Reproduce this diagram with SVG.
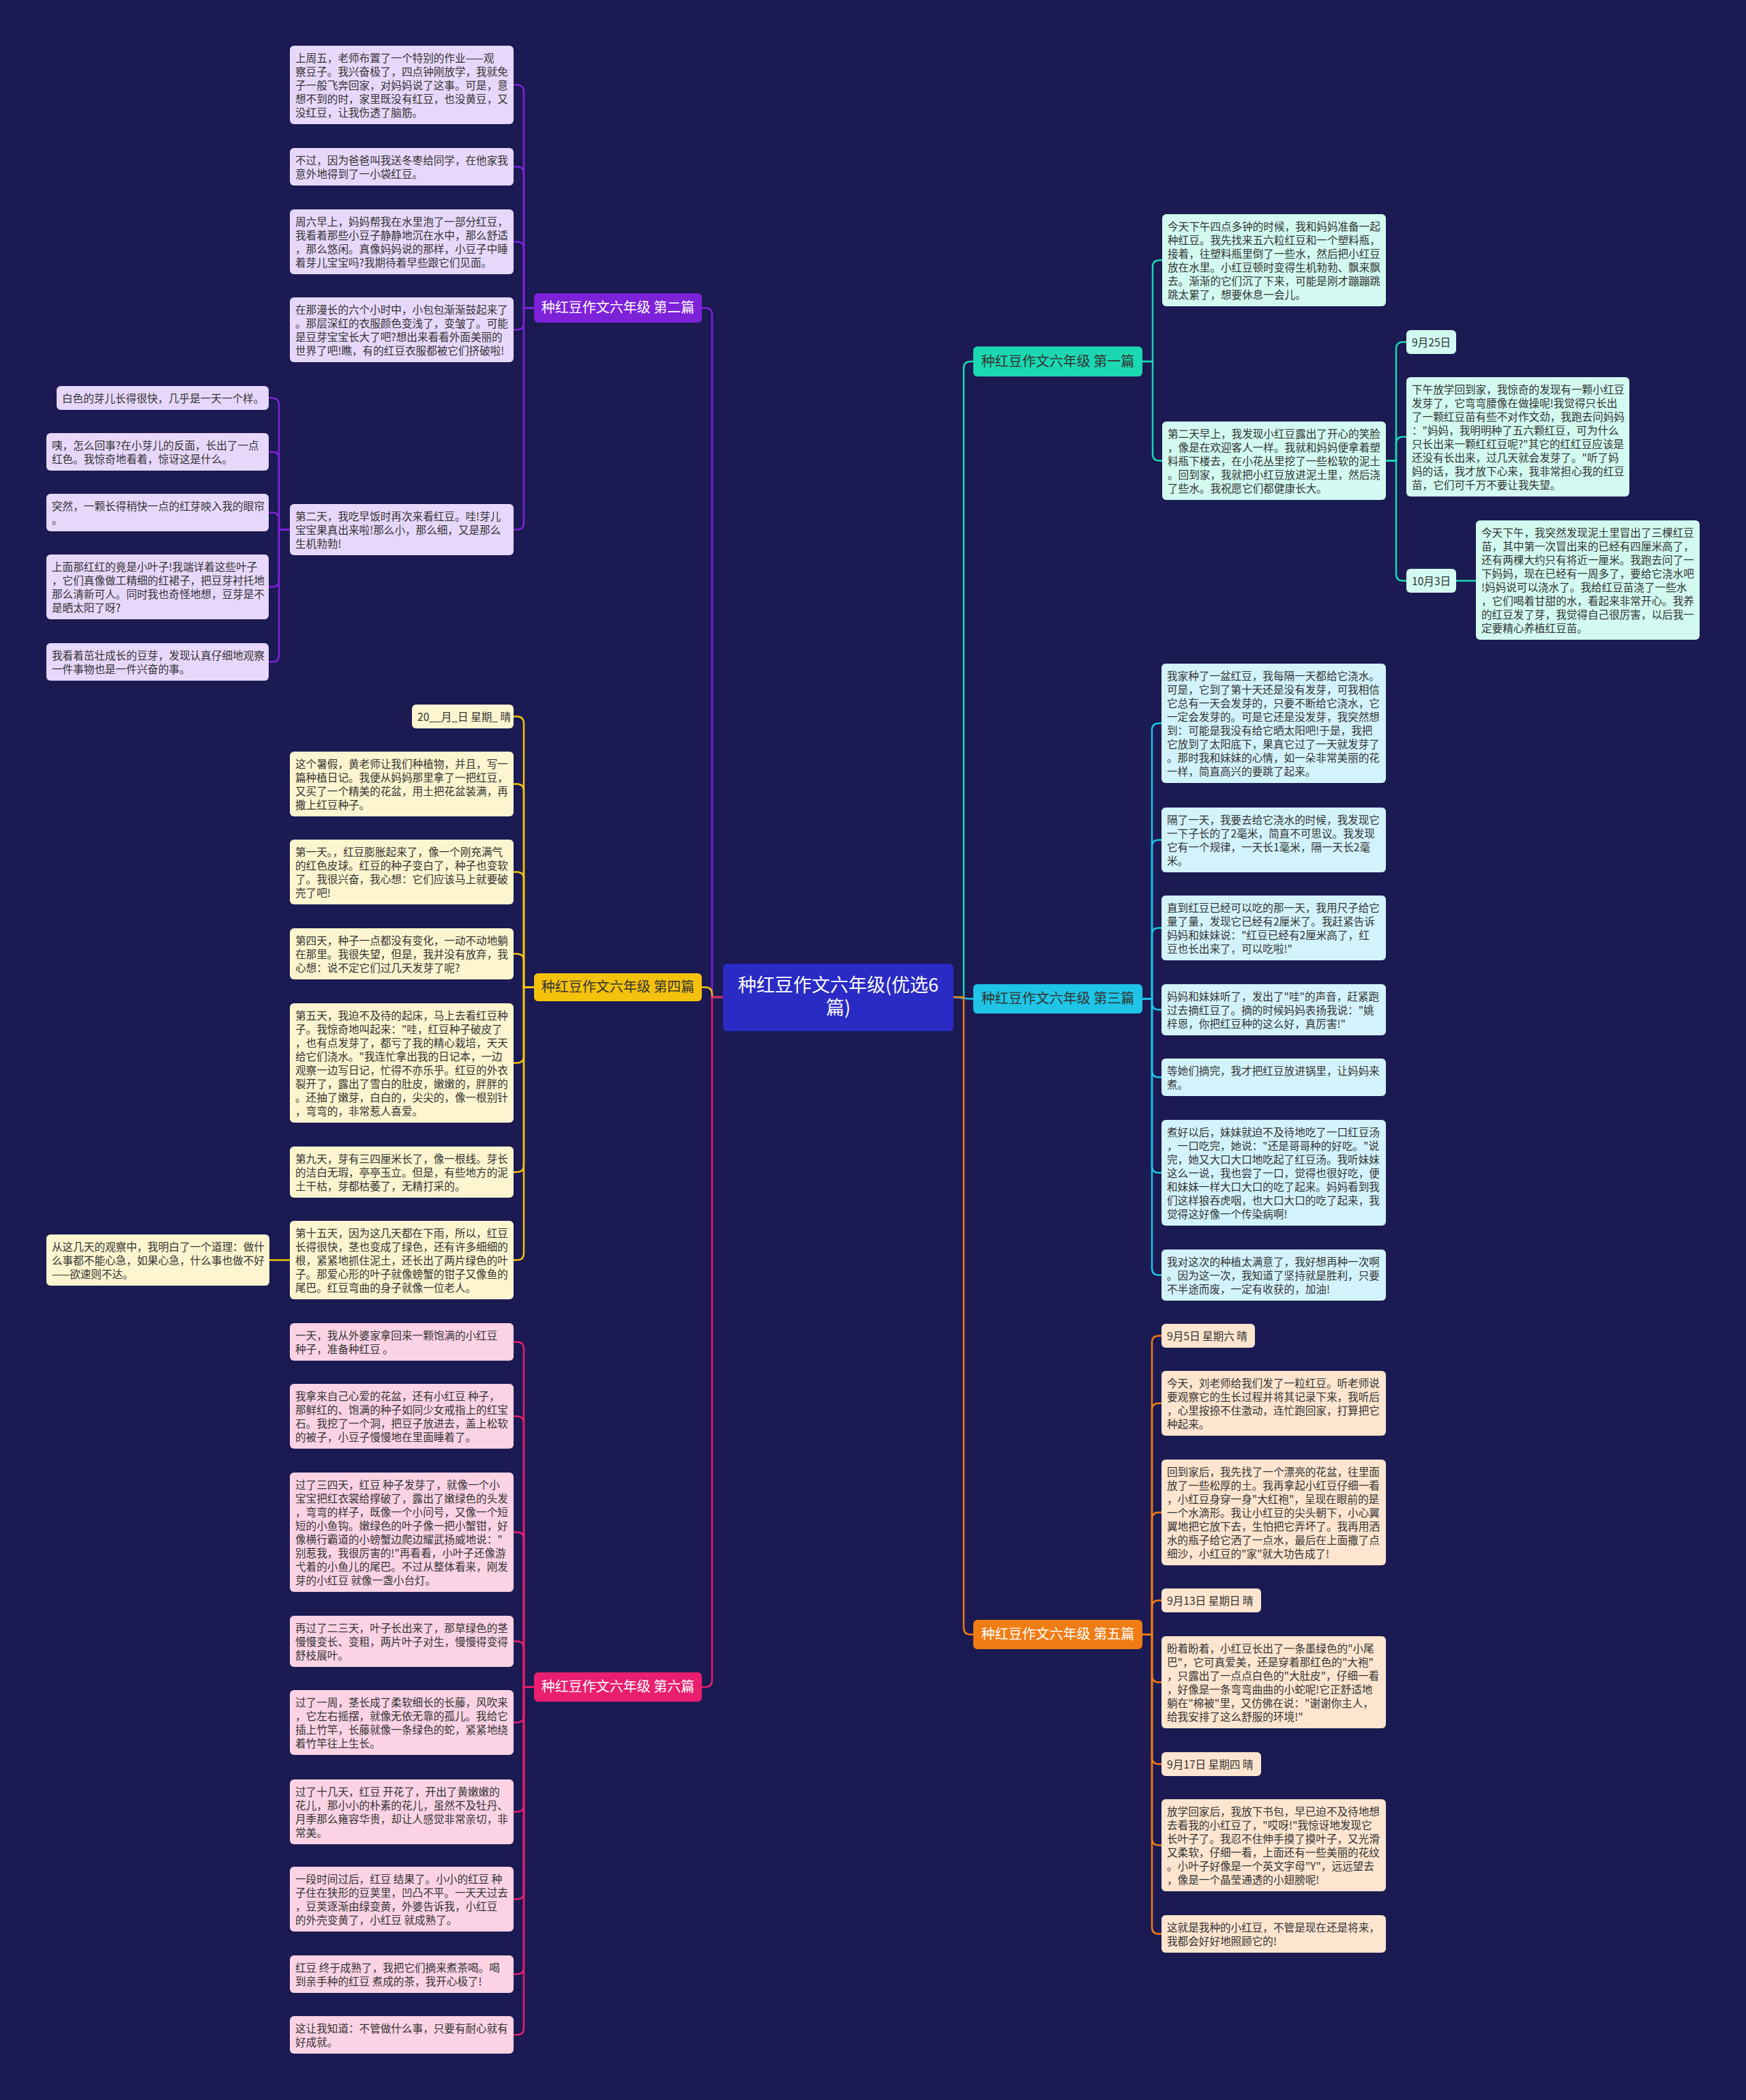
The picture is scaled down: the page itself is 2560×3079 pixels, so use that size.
<svg xmlns="http://www.w3.org/2000/svg" width="2560" height="3079" viewBox="0 0 2560 3079">
<style>
.t{font-family:"Noto Sans CJK SC","Noto Sans",sans-serif;font-size:15.6px;fill:#333}
.bt{font-family:"Noto Sans CJK SC","Noto Sans",sans-serif;font-size:20px;text-anchor:middle}
.ct{font-family:"Noto Sans CJK SC","Noto Sans",sans-serif;font-size:27px;fill:#fff;text-anchor:middle}
.c{fill:none;stroke-width:2.5;stroke-linecap:round}
.lp{fill:#e7d8fb}.ly{fill:#fdf5cf}.lk{fill:#fbd3e5}.lt{fill:#d2faf0}.lc{fill:#d3f3fc}.lo{fill:#fde5cf}
</style>
<rect x="0" y="0" width="2560" height="3079" fill="#1b1a52"/>
<g id="connectors">
<g stroke="#7d22d9" class="c">
<path class="c" stroke="#7d22d9" d="M1060,1462 H1044 V461.5 Q1044,451.5 1034,451.5 H1029"/>
<path class="c" stroke="#7d22d9" d="M783,451.5 H768 V134.5 Q768,124.5 758,124.5 H753"/>
<path class="c" stroke="#7d22d9" d="M783,451.5 H768 V254.5 Q768,244.5 758,244.5 H753"/>
<path class="c" stroke="#7d22d9" d="M783,451.5 H768 V364.5 Q768,354.5 758,354.5 H753"/>
<path class="c" stroke="#7d22d9" d="M783,451.5 H768 V473.5 Q768,483.5 758,483.5 H753"/>
<path class="c" stroke="#7d22d9" d="M783,451.5 H768 V766.5 Q768,776.5 758,776.5 H753"/>
<path class="c" stroke="#7d22d9" d="M425,776.5 H409 V593.5 Q409,583.5 399,583.5 H394"/>
<path class="c" stroke="#7d22d9" d="M425,776.5 H409 V672.5 Q409,662.5 399,662.5 H394"/>
<path class="c" stroke="#7d22d9" d="M425,776.5 H409 V761.5 Q409,751.5 399,751.5 H394"/>
<path class="c" stroke="#7d22d9" d="M425,776.5 H409 V850.5 Q409,860.5 399,860.5 H394"/>
<path class="c" stroke="#7d22d9" d="M425,776.5 H409 V960.5 Q409,970.5 399,970.5 H394"/>
</g>
<g>
<path class="c" stroke="#f4c20d" d="M1060,1462 H1044 V1457.5 Q1044,1447.5 1034,1447.5 H1029"/>
<path class="c" stroke="#f4c20d" d="M783,1447.5 H768 V1060.5 Q768,1050.5 758,1050.5 H753"/>
<path class="c" stroke="#f4c20d" d="M783,1447.5 H768 V1159.5 Q768,1149.5 758,1149.5 H753"/>
<path class="c" stroke="#f4c20d" d="M783,1447.5 H768 V1288.5 Q768,1278.5 758,1278.5 H753"/>
<path class="c" stroke="#f4c20d" d="M783,1447.5 H768 V1408.5 Q768,1398.5 758,1398.5 H753"/>
<path class="c" stroke="#f4c20d" d="M783,1447.5 H768 V1548.5 Q768,1558.5 758,1558.5 H753"/>
<path class="c" stroke="#f4c20d" d="M783,1447.5 H768 V1708.5 Q768,1718.5 758,1718.5 H753"/>
<path class="c" stroke="#f4c20d" d="M783,1447.5 H768 V1837.5 Q768,1847.5 758,1847.5 H753"/>
<path class="c" stroke="#f4c20d" d="M425,1847.5 H395"/>
</g>
<g>
<path class="c" stroke="#e91e6f" d="M1060,1462 H1044 V2463.5 Q1044,2473.5 1034,2473.5 H1029"/>
<path class="c" stroke="#e91e6f" d="M783,2473.5 H768 V1977.5 Q768,1967.5 758,1967.5 H753"/>
<path class="c" stroke="#e91e6f" d="M783,2473.5 H768 V2086.5 Q768,2076.5 758,2076.5 H753"/>
<path class="c" stroke="#e91e6f" d="M783,2473.5 H768 V2256.5 Q768,2246.5 758,2246.5 H753"/>
<path class="c" stroke="#e91e6f" d="M783,2473.5 H768 V2416.5 Q768,2406.5 758,2406.5 H753"/>
<path class="c" stroke="#e91e6f" d="M783,2473.5 H768 V2515.5 Q768,2525.5 758,2525.5 H753"/>
<path class="c" stroke="#e91e6f" d="M783,2473.5 H768 V2646.5 Q768,2656.5 758,2656.5 H753"/>
<path class="c" stroke="#e91e6f" d="M783,2473.5 H768 V2774.5 Q768,2784.5 758,2784.5 H753"/>
<path class="c" stroke="#e91e6f" d="M783,2473.5 H768 V2884.5 Q768,2894.5 758,2894.5 H753"/>
<path class="c" stroke="#e91e6f" d="M783,2473.5 H768 V2973.5 Q768,2983.5 758,2983.5 H753"/>
</g>
<g>
<path class="c" stroke="#1bd8b2" d="M1398,1462 H1413 V540 Q1413,530 1423,530 H1427"/>
<path class="c" stroke="#1bd8b2" d="M1675,530 H1690 V391.5 Q1690,381.5 1700,381.5 H1704"/>
<path class="c" stroke="#1bd8b2" d="M1675,530 H1690 V665.5 Q1690,675.5 1700,675.5 H1704"/>
<path class="c" stroke="#1bd8b2" d="M2032,675.5 H2047 V511.5 Q2047,501.5 2057,501.5 H2062"/>
<path class="c" stroke="#1bd8b2" d="M2032,675.5 H2047 V650.5 Q2047,640.5 2057,640.5 H2062"/>
<path class="c" stroke="#1bd8b2" d="M2032,675.5 H2047 V841.5 Q2047,851.5 2057,851.5 H2062"/>
<path class="c" stroke="#1bd8b2" d="M2135,851.5 H2164"/>
</g>
<g>
<path class="c" stroke="#1ec5e6" d="M1398,1462 C1410,1462 1412,1464.5 1427,1464.5"/>
<path class="c" stroke="#1ec5e6" d="M1675,1464.5 H1689 V1070.5 Q1689,1060.5 1699,1060.5 H1703"/>
<path class="c" stroke="#1ec5e6" d="M1675,1464.5 H1689 V1241.5 Q1689,1231.5 1699,1231.5 H1703"/>
<path class="c" stroke="#1ec5e6" d="M1675,1464.5 H1689 V1370.5 Q1689,1360.5 1699,1360.5 H1703"/>
<path class="c" stroke="#1ec5e6" d="M1675,1464.5 H1689 V1470.5 Q1689,1480.5 1699,1480.5 H1703"/>
<path class="c" stroke="#1ec5e6" d="M1675,1464.5 H1689 V1569.5 Q1689,1579.5 1699,1579.5 H1703"/>
<path class="c" stroke="#1ec5e6" d="M1675,1464.5 H1689 V1709.5 Q1689,1719.5 1699,1719.5 H1703"/>
<path class="c" stroke="#1ec5e6" d="M1675,1464.5 H1689 V1859.5 Q1689,1869.5 1699,1869.5 H1703"/>
</g>
<g>
<path class="c" stroke="#f07c14" d="M1398,1462 H1413 V2386.5 Q1413,2396.5 1423,2396.5 H1427"/>
<path class="c" stroke="#f07c14" d="M1675,2396.5 H1689 V1968.5 Q1689,1958.5 1699,1958.5 H1703"/>
<path class="c" stroke="#f07c14" d="M1675,2396.5 H1689 V2067.5 Q1689,2057.5 1699,2057.5 H1703"/>
<path class="c" stroke="#f07c14" d="M1675,2396.5 H1689 V2227.5 Q1689,2217.5 1699,2217.5 H1703"/>
<path class="c" stroke="#f07c14" d="M1675,2396.5 H1689 V2356.5 Q1689,2346.5 1699,2346.5 H1703"/>
<path class="c" stroke="#f07c14" d="M1675,2396.5 H1689 V2456.5 Q1689,2466.5 1699,2466.5 H1703"/>
<path class="c" stroke="#f07c14" d="M1675,2396.5 H1689 V2576.5 Q1689,2586.5 1699,2586.5 H1703"/>
<path class="c" stroke="#f07c14" d="M1675,2396.5 H1689 V2695.5 Q1689,2705.5 1699,2705.5 H1703"/>
<path class="c" stroke="#f07c14" d="M1675,2396.5 H1689 V2825.5 Q1689,2835.5 1699,2835.5 H1703"/>
</g>
</g>

<g id="center"><rect x="1060" y="1413" width="338" height="99" rx="6" fill="#2a2ac4"/><text class="ct" x="1229" y="1454">种红豆作文六年级(优选6<tspan x="1229" dy="33">篇)</tspan></text></g>

<g id="b2"><rect x="783" y="430" width="246" height="43" rx="6" fill="#7d22d9"/><text class="bt" x="906" y="458" fill="#fff">种红豆作文六年级 第二篇</text></g>
<g id="b4"><rect x="783" y="1427" width="246" height="41" rx="6" fill="#f4c20d"/><text class="bt" x="906" y="1454" fill="#333">种红豆作文六年级 第四篇</text></g>
<g id="b6"><rect x="783" y="2452" width="246" height="43" rx="6" fill="#e91e6f"/><text class="bt" x="906" y="2480" fill="#fff">种红豆作文六年级 第六篇</text></g>
<g id="b1"><rect x="1427" y="508" width="248" height="44" rx="6" fill="#1bd8b2"/><text class="bt" x="1551" y="537" fill="#333">种红豆作文六年级 第一篇</text></g>
<g id="b3"><rect x="1427" y="1443" width="248" height="43" rx="6" fill="#1ec5e6"/><text class="bt" x="1551" y="1471" fill="#333">种红豆作文六年级 第三篇</text></g>
<g id="b5"><rect x="1427" y="2375" width="248" height="43" rx="6" fill="#f07c14"/><text class="bt" x="1551" y="2403" fill="#fff">种红豆作文六年级 第五篇</text></g>

<g id="n2-1"><rect class="lp" x="425" y="67" width="328" height="115" rx="6"/><text class="t" x="433" y="91"><tspan x="433">上周五，老师布置了一个特别的作业——观</tspan><tspan x="433" dy="20">察豆子。我兴奋极了，四点钟刚放学，我就免</tspan><tspan x="433" dy="20">子一般飞奔回家，对妈妈说了这事。可是，意</tspan><tspan x="433" dy="20">想不到的时，家里既没有红豆，也没黄豆，又</tspan><tspan x="433" dy="20">没红豆，让我伤透了脑筋。</tspan></text></g>
<g id="n2-2"><rect class="lp" x="425" y="217" width="328" height="55" rx="6"/><text class="t" x="433" y="241"><tspan x="433">不过，因为爸爸叫我送冬枣给同学，在他家我</tspan><tspan x="433" dy="20">意外地得到了一小袋红豆。</tspan></text></g>
<g id="n2-3"><rect class="lp" x="425" y="307" width="328" height="95" rx="6"/><text class="t" x="433" y="331"><tspan x="433">周六早上，妈妈帮我在水里泡了一部分红豆，</tspan><tspan x="433" dy="20">我看着那些小豆子静静地沉在水中，那么舒适</tspan><tspan x="433" dy="20">，那么悠闲。真像妈妈说的那样，小豆子中睡</tspan><tspan x="433" dy="20">着芽儿宝宝吗?我期待着早些跟它们见面。</tspan></text></g>
<g id="n2-4"><rect class="lp" x="425" y="436" width="328" height="95" rx="6"/><text class="t" x="433" y="460"><tspan x="433">在那漫长的六个小时中，小包包渐渐鼓起来了</tspan><tspan x="433" dy="20">。那层深红的衣服颜色变浅了，变皱了。可能</tspan><tspan x="433" dy="20">是豆芽宝宝长大了吧?想出来看看外面美丽的</tspan><tspan x="433" dy="20">世界了吧!瞧，有的红豆衣服都被它们挤破啦!</tspan></text></g>
<g id="n2-5"><rect class="lp" x="425" y="739" width="328" height="75" rx="6"/><text class="t" x="433" y="763"><tspan x="433">第二天，我吃早饭时再次来看红豆。哇!芽儿</tspan><tspan x="433" dy="20">宝宝果真出来啦!那么小，那么细，又是那么</tspan><tspan x="433" dy="20">生机勃勃!</tspan></text></g>
<g id="n2-5-1"><rect class="lp" x="83" y="566" width="311" height="35" rx="6"/><text class="t" x="91" y="590">白色的芽儿长得很快，几乎是一天一个样。</text></g>
<g id="n2-5-2"><rect class="lp" x="68" y="635" width="326" height="55" rx="6"/><text class="t" x="76" y="659"><tspan x="76">咦，怎么回事?在小芽儿的反面，长出了一点</tspan><tspan x="76" dy="20">红色。我惊奇地看着，惊讶这是什么。</tspan></text></g>
<g id="n2-5-3"><rect class="lp" x="68" y="724" width="326" height="55" rx="6"/><text class="t" x="76" y="748"><tspan x="76">突然，一颗长得稍快一点的红芽映入我的眼帘</tspan><tspan x="76" dy="20">。</tspan></text></g>
<g id="n2-5-4"><rect class="lp" x="68" y="813" width="326" height="95" rx="6"/><text class="t" x="76" y="837"><tspan x="76">上面那红红的竟是小叶子!我端详着这些叶子</tspan><tspan x="76" dy="20">，它们真像做工精细的红裙子，把豆芽衬托地</tspan><tspan x="76" dy="20">那么清新可人。同时我也奇怪地想，豆芽是不</tspan><tspan x="76" dy="20">是晒太阳了呀?</tspan></text></g>
<g id="n2-5-5"><rect class="lp" x="68" y="943" width="326" height="55" rx="6"/><text class="t" x="76" y="967"><tspan x="76">我看着茁壮成长的豆芽，发现认真仔细地观察</tspan><tspan x="76" dy="20">一件事物也是一件兴奋的事。</tspan></text></g>

<g id="n4-1"><rect class="ly" x="604" y="1033" width="149" height="35" rx="6"/><text class="t" x="612" y="1057">20__月_日 星期_ 晴</text></g>
<g id="n4-2"><rect class="ly" x="425" y="1102" width="328" height="95" rx="6"/><text class="t" x="433" y="1126"><tspan x="433">这个暑假，黄老师让我们种植物，并且，写一</tspan><tspan x="433" dy="20">篇种植日记。我便从妈妈那里拿了一把红豆，</tspan><tspan x="433" dy="20">又买了一个精美的花盆，用土把花盆装满，再</tspan><tspan x="433" dy="20">撒上红豆种子。</tspan></text></g>
<g id="n4-3"><rect class="ly" x="425" y="1231" width="328" height="95" rx="6"/><text class="t" x="433" y="1255"><tspan x="433">第一天。，红豆膨胀起来了，像一个刚充满气</tspan><tspan x="433" dy="20">的红色皮球。红豆的种子变白了，种子也变软</tspan><tspan x="433" dy="20">了。我很兴奋，我心想：它们应该马上就要破</tspan><tspan x="433" dy="20">壳了吧!</tspan></text></g>
<g id="n4-4"><rect class="ly" x="425" y="1361" width="328" height="75" rx="6"/><text class="t" x="433" y="1385"><tspan x="433">第四天，种子一点都没有变化，一动不动地躺</tspan><tspan x="433" dy="20">在那里。我很失望，但是，我并没有放弃，我</tspan><tspan x="433" dy="20">心想：说不定它们过几天发芽了呢?</tspan></text></g>
<g id="n4-5"><rect class="ly" x="425" y="1471" width="328" height="175" rx="6"/><text class="t" x="433" y="1495"><tspan x="433">第五天，我迫不及待的起床，马上去看红豆种</tspan><tspan x="433" dy="20">子。我惊奇地叫起来："哇，红豆种子破皮了</tspan><tspan x="433" dy="20">，也有点发芽了，都亏了我的精心栽培，天天</tspan><tspan x="433" dy="20">给它们浇水。"我连忙拿出我的日记本，一边</tspan><tspan x="433" dy="20">观察一边写日记，忙得不亦乐乎。红豆的外衣</tspan><tspan x="433" dy="20">裂开了，露出了雪白的肚皮，嫩嫩的，胖胖的</tspan><tspan x="433" dy="20">。还抽了嫩芽，白白的，尖尖的，像一根别针</tspan><tspan x="433" dy="20">，弯弯的，非常惹人喜爱。</tspan></text></g>
<g id="n4-6"><rect class="ly" x="425" y="1681" width="328" height="75" rx="6"/><text class="t" x="433" y="1705"><tspan x="433">第九天，芽有三四厘米长了，像一根线。芽长</tspan><tspan x="433" dy="20">的洁白无瑕，亭亭玉立。但是，有些地方的泥</tspan><tspan x="433" dy="20">土干枯，芽都枯萎了，无精打采的。</tspan></text></g>
<g id="n4-7"><rect class="ly" x="425" y="1790" width="328" height="115" rx="6"/><text class="t" x="433" y="1814"><tspan x="433">第十五天，因为这几天都在下雨，所以，红豆</tspan><tspan x="433" dy="20">长得很快，茎也变成了绿色，还有许多细细的</tspan><tspan x="433" dy="20">根，紧紧地抓住泥土，还长出了两片绿色的叶</tspan><tspan x="433" dy="20">子。那爱心形的叶子就像螃蟹的钳子又像鱼的</tspan><tspan x="433" dy="20">尾巴。红豆弯曲的身子就像一位老人。</tspan></text></g>
<g id="n4-7-1"><rect class="ly" x="68" y="1810" width="327" height="75" rx="6"/><text class="t" x="76" y="1834"><tspan x="76">从这几天的观察中，我明白了一个道理：做什</tspan><tspan x="76" dy="20">么事都不能心急，如果心急，什么事也做不好</tspan><tspan x="76" dy="20">——欲速则不达。</tspan></text></g>

<g id="n6-1"><rect class="lk" x="425" y="1940" width="328" height="55" rx="6"/><text class="t" x="433" y="1964"><tspan x="433">一天，我从外婆家拿回来一颗饱满的小红豆</tspan><tspan x="433" dy="20">种子，准备种红豆 。</tspan></text></g>
<g id="n6-2"><rect class="lk" x="425" y="2029" width="328" height="95" rx="6"/><text class="t" x="433" y="2053"><tspan x="433">我拿来自己心爱的花盆，还有小红豆 种子，</tspan><tspan x="433" dy="20">那鲜红的、饱满的种子如同少女戒指上的红宝</tspan><tspan x="433" dy="20">石。我挖了一个洞，把豆子放进去，盖上松软</tspan><tspan x="433" dy="20">的被子，小豆子慢慢地在里面睡着了。</tspan></text></g>
<g id="n6-3"><rect class="lk" x="425" y="2159" width="328" height="175" rx="6"/><text class="t" x="433" y="2183"><tspan x="433">过了三四天，红豆 种子发芽了，就像一个小</tspan><tspan x="433" dy="20">宝宝把红衣裳给撑破了，露出了嫩绿色的头发</tspan><tspan x="433" dy="20">，弯弯的样子，既像一个小问号，又像一个短</tspan><tspan x="433" dy="20">短的小鱼钩。嫩绿色的叶子像一把小蟹钳，好</tspan><tspan x="433" dy="20">像横行霸道的小螃蟹边爬边耀武扬威地说："</tspan><tspan x="433" dy="20">别惹我，我很厉害的!"再看看，小叶子还像游</tspan><tspan x="433" dy="20">弋着的小鱼儿的尾巴。不过从整体看来，刚发</tspan><tspan x="433" dy="20">芽的小红豆 就像一盏小台灯。</tspan></text></g>
<g id="n6-4"><rect class="lk" x="425" y="2369" width="328" height="75" rx="6"/><text class="t" x="433" y="2393"><tspan x="433">再过了二三天，叶子长出来了，那草绿色的茎</tspan><tspan x="433" dy="20">慢慢变长、变粗，两片叶子对生，慢慢得变得</tspan><tspan x="433" dy="20">舒枝展叶。</tspan></text></g>
<g id="n6-5"><rect class="lk" x="425" y="2478" width="328" height="95" rx="6"/><text class="t" x="433" y="2502"><tspan x="433">过了一周，茎长成了柔软细长的长藤，风吹来</tspan><tspan x="433" dy="20">，它左右摇摆，就像无依无靠的孤儿。我给它</tspan><tspan x="433" dy="20">插上竹竿，长藤就像一条绿色的蛇，紧紧地绕</tspan><tspan x="433" dy="20">着竹竿往上生长。</tspan></text></g>
<g id="n6-6"><rect class="lk" x="425" y="2609" width="328" height="95" rx="6"/><text class="t" x="433" y="2633"><tspan x="433">过了十几天，红豆 开花了，开出了黄嫩嫩的</tspan><tspan x="433" dy="20">花儿，那小小的朴素的花儿，虽然不及牡丹、</tspan><tspan x="433" dy="20">月季那么雍容华贵，却让人感觉非常亲切，非</tspan><tspan x="433" dy="20">常美。</tspan></text></g>
<g id="n6-7"><rect class="lk" x="425" y="2737" width="328" height="95" rx="6"/><text class="t" x="433" y="2761"><tspan x="433">一段时间过后，红豆 结果了。小小的红豆 种</tspan><tspan x="433" dy="20">子住在狭形的豆荚里，凹凸不平。一天天过去</tspan><tspan x="433" dy="20">，豆荚逐渐由绿变黄，外婆告诉我，小红豆</tspan><tspan x="433" dy="20">的外壳变黄了，小红豆 就成熟了。</tspan></text></g>
<g id="n6-8"><rect class="lk" x="425" y="2867" width="328" height="55" rx="6"/><text class="t" x="433" y="2891"><tspan x="433">红豆 终于成熟了，我把它们摘来煮茶喝。喝</tspan><tspan x="433" dy="20">到亲手种的红豆 煮成的茶，我开心极了!</tspan></text></g>
<g id="n6-9"><rect class="lk" x="425" y="2956" width="328" height="55" rx="6"/><text class="t" x="433" y="2980"><tspan x="433">这让我知道：不管做什么事，只要有耐心就有</tspan><tspan x="433" dy="20">好成就。</tspan></text></g>

<g id="n1-1"><rect class="lt" x="1704" y="314" width="328" height="135" rx="6"/><text class="t" x="1712" y="338"><tspan x="1712">今天下午四点多钟的时候，我和妈妈准备一起</tspan><tspan x="1712" dy="20">种红豆。我先找来五六粒红豆和一个塑料瓶，</tspan><tspan x="1712" dy="20">接着，往塑料瓶里倒了一些水，然后把小红豆</tspan><tspan x="1712" dy="20">放在水里。小红豆顿时变得生机勃勃、飘来飘</tspan><tspan x="1712" dy="20">去。渐渐的它们沉了下来，可能是刚才蹦蹦跳</tspan><tspan x="1712" dy="20">跳太累了，想要休息一会儿。</tspan></text></g>
<g id="n1-2"><rect class="lt" x="1704" y="618" width="328" height="115" rx="6"/><text class="t" x="1712" y="642"><tspan x="1712">第二天早上，我发现小红豆露出了开心的笑脸</tspan><tspan x="1712" dy="20">，像是在欢迎客人一样。我就和妈妈便拿着塑</tspan><tspan x="1712" dy="20">料瓶下楼去，在小花丛里挖了一些松软的泥土</tspan><tspan x="1712" dy="20">。回到家，我就把小红豆放进泥土里，然后浇</tspan><tspan x="1712" dy="20">了些水。我祝愿它们都健康长大。</tspan></text></g>
<g id="n1-2-1"><rect class="lt" x="2062" y="484" width="73" height="35" rx="6"/><text class="t" x="2070" y="508">9月25日</text></g>
<g id="n1-2-2"><rect class="lt" x="2062" y="553" width="327" height="175" rx="6"/><text class="t" x="2070" y="577"><tspan x="2070">下午放学回到家，我惊奇的发现有一颗小红豆</tspan><tspan x="2070" dy="20">发芽了，它弯弯腰像在做操呢!我觉得只长出</tspan><tspan x="2070" dy="20">了一颗红豆苗有些不对作文劲，我跑去问妈妈</tspan><tspan x="2070" dy="20">："妈妈，我明明种了五六颗红豆，可为什么</tspan><tspan x="2070" dy="20">只长出来一颗红红豆呢?"其它的红红豆应该是</tspan><tspan x="2070" dy="20">还没有长出来，过几天就会发芽了。"听了妈</tspan><tspan x="2070" dy="20">妈的话，我才放下心来，我非常担心我的红豆</tspan><tspan x="2070" dy="20">苗，它们可千万不要让我失望。</tspan></text></g>
<g id="n1-2-3"><rect class="lt" x="2062" y="834" width="73" height="35" rx="6"/><text class="t" x="2070" y="858">10月3日</text></g>
<g id="n1-2-3-1"><rect class="lt" x="2164" y="763" width="328" height="175" rx="6"/><text class="t" x="2172" y="787"><tspan x="2172">今天下午，我突然发现泥土里冒出了三棵红豆</tspan><tspan x="2172" dy="20">苗，其中第一次冒出来的已经有四厘米高了，</tspan><tspan x="2172" dy="20">还有两棵大约只有将近一厘米。我跑去问了一</tspan><tspan x="2172" dy="20">下妈妈，现在已经有一周多了，要给它浇水吧</tspan><tspan x="2172" dy="20">!妈妈说可以浇水了。我给红豆苗浇了一些水</tspan><tspan x="2172" dy="20">，它们喝着甘甜的水，看起来非常开心。我养</tspan><tspan x="2172" dy="20">的红豆发了芽，我觉得自己很厉害，以后我一</tspan><tspan x="2172" dy="20">定要精心养植红豆苗。</tspan></text></g>

<g id="n3-1"><rect class="lc" x="1703" y="973" width="329" height="175" rx="6"/><text class="t" x="1711" y="997"><tspan x="1711">我家种了一盆红豆，我每隔一天都给它浇水。</tspan><tspan x="1711" dy="20">可是，它到了第十天还是没有发芽，可我相信</tspan><tspan x="1711" dy="20">它总有一天会发芽的，只要不断给它浇水，它</tspan><tspan x="1711" dy="20">一定会发芽的。可是它还是没发芽，我突然想</tspan><tspan x="1711" dy="20">到：可能是我没有给它晒太阳吧!于是，我把</tspan><tspan x="1711" dy="20">它放到了太阳底下，果真它过了一天就发芽了</tspan><tspan x="1711" dy="20">。那时我和妹妹的心情，如一朵非常美丽的花</tspan><tspan x="1711" dy="20">一样，简直高兴的要跳了起来。</tspan></text></g>
<g id="n3-2"><rect class="lc" x="1703" y="1184" width="329" height="95" rx="6"/><text class="t" x="1711" y="1208"><tspan x="1711">隔了一天，我要去给它浇水的时候，我发现它</tspan><tspan x="1711" dy="20">一下子长的了2毫米，简直不可思议。我发现</tspan><tspan x="1711" dy="20">它有一个规律，一天长1毫米，隔一天长2毫</tspan><tspan x="1711" dy="20">米。</tspan></text></g>
<g id="n3-3"><rect class="lc" x="1703" y="1313" width="329" height="95" rx="6"/><text class="t" x="1711" y="1337"><tspan x="1711">直到红豆已经可以吃的那一天，我用尺子给它</tspan><tspan x="1711" dy="20">量了量，发现它已经有2厘米了。我赶紧告诉</tspan><tspan x="1711" dy="20">妈妈和妹妹说："红豆已经有2厘米高了，红</tspan><tspan x="1711" dy="20">豆也长出来了，可以吃啦!"</tspan></text></g>
<g id="n3-4"><rect class="lc" x="1703" y="1443" width="329" height="75" rx="6"/><text class="t" x="1711" y="1467"><tspan x="1711">妈妈和妹妹听了，发出了"哇"的声音，赶紧跑</tspan><tspan x="1711" dy="20">过去摘红豆了。摘的时候妈妈表扬我说："姚</tspan><tspan x="1711" dy="20">梓恩，你把红豆种的这么好，真厉害!"</tspan></text></g>
<g id="n3-5"><rect class="lc" x="1703" y="1552" width="329" height="55" rx="6"/><text class="t" x="1711" y="1576"><tspan x="1711">等她们摘完，我才把红豆放进锅里，让妈妈来</tspan><tspan x="1711" dy="20">煮。</tspan></text></g>
<g id="n3-6"><rect class="lc" x="1703" y="1642" width="329" height="155" rx="6"/><text class="t" x="1711" y="1666"><tspan x="1711">煮好以后，妹妹就迫不及待地吃了一口红豆汤</tspan><tspan x="1711" dy="20">，一口吃完，她说："还是哥哥种的好吃。"说</tspan><tspan x="1711" dy="20">完，她又大口大口地吃起了红豆汤。我听妹妹</tspan><tspan x="1711" dy="20">这么一说，我也尝了一口，觉得也很好吃，便</tspan><tspan x="1711" dy="20">和妹妹一样大口大口的吃了起来。妈妈看到我</tspan><tspan x="1711" dy="20">们这样狼吞虎咽，也大口大口的吃了起来，我</tspan><tspan x="1711" dy="20">觉得这好像一个传染病啊!</tspan></text></g>
<g id="n3-7"><rect class="lc" x="1703" y="1832" width="329" height="75" rx="6"/><text class="t" x="1711" y="1856"><tspan x="1711">我对这次的种植太满意了，我好想再种一次啊</tspan><tspan x="1711" dy="20">。因为这一次，我知道了坚持就是胜利，只要</tspan><tspan x="1711" dy="20">不半途而废，一定有收获的，加油!</tspan></text></g>

<g id="n5-1"><rect class="lo" x="1703" y="1941" width="137" height="35" rx="6"/><text class="t" x="1711" y="1965">9月5日 星期六 晴</text></g>
<g id="n5-2"><rect class="lo" x="1703" y="2010" width="329" height="95" rx="6"/><text class="t" x="1711" y="2034"><tspan x="1711">今天，刘老师给我们发了一粒红豆。听老师说</tspan><tspan x="1711" dy="20">要观察它的生长过程并将其记录下来，我听后</tspan><tspan x="1711" dy="20">，心里按捺不住激动，连忙跑回家，打算把它</tspan><tspan x="1711" dy="20">种起来。</tspan></text></g>
<g id="n5-3"><rect class="lo" x="1703" y="2140" width="329" height="155" rx="6"/><text class="t" x="1711" y="2164"><tspan x="1711">回到家后，我先找了一个漂亮的花盆，往里面</tspan><tspan x="1711" dy="20">放了一些松厚的土。我再拿起小红豆仔细一看</tspan><tspan x="1711" dy="20">，小红豆身穿一身"大红袍"，呈现在眼前的是</tspan><tspan x="1711" dy="20">一个水滴形。我让小红豆的尖头朝下，小心翼</tspan><tspan x="1711" dy="20">翼地把它放下去，生怕把它弄坏了。我再用洒</tspan><tspan x="1711" dy="20">水的瓶子给它洒了一点水，最后在上面撒了点</tspan><tspan x="1711" dy="20">细沙，小红豆的"家"就大功告成了!</tspan></text></g>
<g id="n5-4"><rect class="lo" x="1703" y="2329" width="146" height="35" rx="6"/><text class="t" x="1711" y="2353">9月13日 星期日 晴</text></g>
<g id="n5-5"><rect class="lo" x="1703" y="2399" width="329" height="135" rx="6"/><text class="t" x="1711" y="2423"><tspan x="1711">盼着盼着，小红豆长出了一条墨绿色的"小尾</tspan><tspan x="1711" dy="20">巴"，它可真爱美，还是穿着那红色的"大袍"</tspan><tspan x="1711" dy="20">，只露出了一点点白色的"大肚皮"，仔细一看</tspan><tspan x="1711" dy="20">，好像是一条弯弯曲曲的小蛇呢!它正舒适地</tspan><tspan x="1711" dy="20">躺在"棉被"里，又仿佛在说："谢谢你主人，</tspan><tspan x="1711" dy="20">给我安排了这么舒服的环境!"</tspan></text></g>
<g id="n5-6"><rect class="lo" x="1703" y="2569" width="146" height="35" rx="6"/><text class="t" x="1711" y="2593">9月17日 星期四 晴</text></g>
<g id="n5-7"><rect class="lo" x="1703" y="2638" width="329" height="135" rx="6"/><text class="t" x="1711" y="2662"><tspan x="1711">放学回家后，我放下书包，早已迫不及待地想</tspan><tspan x="1711" dy="20">去看我的小红豆了，"哎呀!"我惊讶地发现它</tspan><tspan x="1711" dy="20">长叶子了。我忍不住伸手摸了摸叶子，又光滑</tspan><tspan x="1711" dy="20">又柔软，仔细一看，上面还有一些美丽的花纹</tspan><tspan x="1711" dy="20">。小叶子好像是一个英文字母"Y"，远远望去</tspan><tspan x="1711" dy="20">，像是一个晶莹通透的小翅膀呢!</tspan></text></g>
<g id="n5-8"><rect class="lo" x="1703" y="2808" width="329" height="55" rx="6"/><text class="t" x="1711" y="2832"><tspan x="1711">这就是我种的小红豆，不管是现在还是将来，</tspan><tspan x="1711" dy="20">我都会好好地照顾它的!</tspan></text></g>
</svg>
